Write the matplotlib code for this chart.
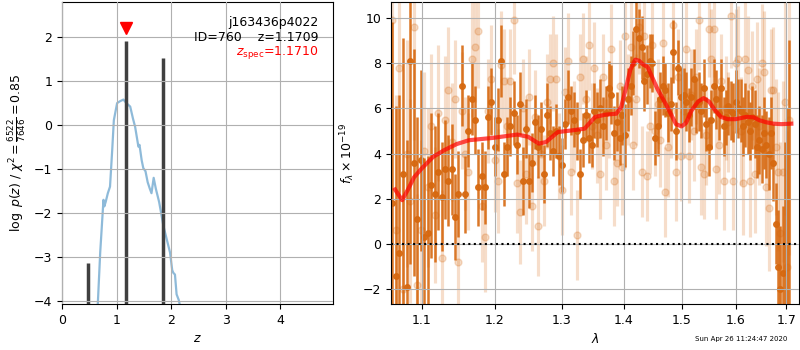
import numpy as np
import matplotlib
matplotlib.use('Agg')
import matplotlib.pyplot as plt
from matplotlib.ticker import FixedLocator, FixedFormatter, NullLocator

plt.rcParams['font.size'] = 9

# ---- redshift fit: log p(z) ----
pz_z = [0.655, 0.70, 0.73, 0.76, 0.775, 0.80, 0.84, 0.88, 0.92, 0.95, 1.01, 1.06,
        1.125, 1.18, 1.25, 1.30, 1.34, 1.40, 1.42, 1.46, 1.49, 1.53, 1.57, 1.61,
        1.64, 1.68, 1.72, 1.78, 1.86, 1.92, 1.98, 2.02, 2.04, 2.07, 2.10, 2.14, 2.16]
pz_logp = [-4.1, -2.9, -2.3, -1.7, -1.85, -1.75, -1.55, -1.4, -0.57, 0.11, 0.5, 0.54,
           0.58, 0.5, 0.42, 0.15, -0.04, -0.49, -0.45, -0.8, -0.98, -1.05, -1.3, -1.45,
           -1.55, -1.2, -1.45, -1.75, -2.3, -2.6, -2.9, -3.3, -3.36, -3.4, -3.85, -3.98, -4.1]

peak_z = [0.483, 1.165, 1.848]
peak_logp = [-3.14, 1.92, 1.53]

z_spec = 1.1710
z_fit = 1.1709
root = 'j163436p4022'
obj_id = 760
chi2_num, chi2_den = 6522, 7646

# ---- 1D spectrum, two sets of extractions on a common wavelength grid ----
wave = [1.0620, 1.0666, 1.0712, 1.0758, 1.0804, 1.0850, 1.0896, 1.0942, 1.0988, 1.1034,
        1.1080, 1.1126, 1.1172, 1.1218, 1.1264, 1.1310, 1.1356, 1.1402, 1.1448, 1.1494,
        1.1540, 1.1586, 1.1632, 1.1678, 1.1724, 1.1770, 1.1816, 1.1862, 1.1908, 1.1954,
        1.2000, 1.2046, 1.2092, 1.2138, 1.2184, 1.2230, 1.2276, 1.2322, 1.2368, 1.2414,
        1.2460, 1.2506, 1.2552, 1.2598, 1.2644, 1.2690, 1.2736, 1.2782, 1.2828, 1.2874,
        1.2920, 1.2966, 1.3012, 1.3058, 1.3104, 1.3150, 1.3196, 1.3242, 1.3288, 1.3334,
        1.3380, 1.3426, 1.3472, 1.3518, 1.3564, 1.3610, 1.3656, 1.3702, 1.3748, 1.3794,
        1.3840, 1.3886, 1.3932, 1.3978, 1.4024, 1.4070, 1.4116, 1.4162, 1.4208, 1.4254,
        1.4300, 1.4346, 1.4392, 1.4438, 1.4484, 1.4530, 1.4576, 1.4622, 1.4668, 1.4714,
        1.4760, 1.4806, 1.4852, 1.4898, 1.4944, 1.4990, 1.5036, 1.5082, 1.5128, 1.5174,
        1.5220, 1.5266, 1.5312, 1.5358, 1.5404, 1.5450, 1.5496, 1.5542, 1.5588, 1.5634,
        1.5680, 1.5726, 1.5772, 1.5818, 1.5864, 1.5910, 1.5956, 1.6002, 1.6048, 1.6094,
        1.6140, 1.6186, 1.6232, 1.6278, 1.6324, 1.6370, 1.6416, 1.6462, 1.6508, 1.6554,
        1.6600, 1.6646, 1.6692, 1.6738, 1.6784, 1.6830, 1.6876, 1.6922, 1.6968, 1.7014,
        1.7060]

flux_a = [1.8, -1.4, -0.4, 3.1, -1.9, 8.1, 3.6, 1.1, 3.7, 0.3,
          0.5, 2.6, 2.2, 3.2, 2.1, 3.3, 2.8, 3.3, 1.2,
          2.2, 7.0, 2.2, 5.0, 6.4, 5.5, 2.5, 3.0, 2.5, 5.6,
          6.3, 4.3, 5.5, 8.1, 3.1, 4.3, 5.2, 5.8, 4.4, 6.2, 2.8,
          5.1, 2.8, 3.6, 5.4, 4.3, 5.1, 3.1, 5.7, 4.9, 4.1, 5.0, 3.9,
          3.5, 5.3, 6.5, 5.9, 5.5, 5.0, 3.1, 4.6, 5.7, 4.7, 4.4,
          5.9, 5.5, 6.0, 5.2, 5.8, 6.9, 6.6, 4.9, 5.4, 4.7, 5.7, 4.8, 6.4,
          7.0, 8.0, 9.5, 9.1, 8.7, 7.2, 7.5, 8.1, 8.0, 4.7, 5.2, 6.4,
          7.0, 6.8, 5.8, 6.2, 8.5, 5.0, 7.8, 6.5, 6.6, 6.3, 5.7, 6.5, 7.3, 6.1,
          6.3, 5.9, 6.9, 5.3, 4.3, 5.5, 7.0, 6.4, 5.8, 6.9, 5.2, 5.6, 6.1,
          5.9, 5.8, 6.3, 6.0, 5.9, 5.2, 5.7, 5.4, 5.0, 5.6, 5.3, 4.3, 4.6,
          4.2, 4.9, 4.4, 4.0, 4.9, 3.6, 0.9, -1.0, -2.0, -1.3, -3.5, -4.0, -3.0]
err_a = [8.0, 7.5, 7.0, 6.0, 6.5, 9.0, 5.0, 4.5, 4.0, 3.5,
         3.4, 3.2, 3.0, 2.6, 2.4, 2.2, 2.0, 2.0, 1.9,
         1.9, 1.8, 1.7, 1.6, 1.6, 1.5, 1.7, 1.5, 1.6, 1.4,
         1.5, 1.3, 1.4, 1.6, 1.4, 1.3, 1.3, 1.4, 1.3, 1.4, 1.5,
         1.3, 1.2, 1.3, 1.2, 1.4, 1.2, 1.3, 1.4, 1.2, 1.1, 1.2, 1.3,
         1.2, 1.1, 1.2, 1.1, 1.2, 1.3, 1.1, 1.2, 1.1, 1.1, 1.0,
         1.2, 1.2, 1.3, 1.3, 1.2, 1.2, 1.3, 1.2, 1.3, 1.2, 1.3, 1.4, 1.4,
         1.3, 1.4, 1.3, 1.3, 1.4, 1.3, 1.3, 1.2, 1.3, 1.2, 1.3, 1.2,
         1.3, 1.2, 1.3, 1.2, 1.4, 1.3, 1.2, 1.3, 1.2, 1.3, 1.2, 1.3, 1.3, 1.2,
         1.3, 1.2, 1.3, 1.2, 1.3, 1.3, 1.2, 1.3, 1.2, 1.3, 1.3, 1.2, 1.3,
         1.3, 1.3, 1.4, 1.3, 1.4, 1.3, 1.4, 1.4, 1.3, 1.4, 1.5, 1.4, 1.5,
         1.5, 1.6, 1.5, 1.6, 1.6, 1.7, 1.8, 2.5, 2.8, 3.0, 8.0, 10.0, 12.0]

flux_b = [9.9, 0.6, 7.8, -2.0, 4.0, 1.9, 9.6, -1.8, 0.6, 4.1,
          2.5, 5.2, 1.3, 5.8, -0.6, 5.5, 6.8, 4.5, 6.4,
          -0.8, 5.9, 4.0, 3.2, 8.2, 8.7, 9.4, 1.7, 0.3, 5.9,
          7.3, 3.7, 2.8, 7.9, 7.2, 5.2, 7.2, 9.9, 2.7, 1.4, 6.0,
          3.1, 6.5, 1.7, 5.6, 0.8, 4.0, 2.8, 6.3, 7.3, 8.0, 7.3, 3.9,
          2.4, 6.7, 8.1, 3.2, 5.2, 0.4, 7.4, 8.2, 6.4, 8.8, 5.2,
          7.8, 4.8, 3.1, 7.4, 4.4, 5.9, 8.6, 2.8, 3.6, 7.0, 3.4, 9.2, 6.4,
          8.7, 4.4, 6.4, 9.6, 3.2, 9.2, 3.0, 5.2, 8.8, 5.0, 6.2, 4.6,
          8.9, 2.3, 4.3, 5.9, 9.7, 3.2, 7.4, 3.9, 5.9, 8.6, 3.9, 6.6, 5.0, 7.4,
          9.9, 3.4, 3.1, 4.8, 9.5, 8.2, 9.5, 3.3, 4.4, 7.2, 2.8, 6.0, 5.4,
          10.1, 2.8, 8.0, 8.2, 5.0, 2.7, 8.2, 7.7, 2.8, 7.0, 3.1, 7.3, 5.2,
          8.0, 7.6, 2.5, 1.6, 6.8, 6.8, 4.3, 3.2, 0.5, 3.2, 6.3, -1.0, 5.5]
err_b = [6.0, 6.0, 5.5, 5.0, 5.0, 4.5, 5.0, 4.0, 4.0, 3.5,
         3.5, 3.2, 3.0, 3.0, 3.0, 2.8, 2.8, 2.6, 2.6,
         2.8, 2.6, 2.5, 2.6, 2.6, 2.4, 2.5, 2.5, 2.4, 2.3,
         2.4, 2.3, 2.3, 2.4, 2.3, 2.2, 2.3, 2.4, 2.2, 2.3, 2.2,
         2.2, 2.1, 2.0, 2.1, 2.2, 2.0, 2.0, 2.1, 2.0, 2.1, 2.0, 1.9,
         2.0, 2.0, 2.1, 1.9, 2.0, 2.0, 1.9, 2.0, 1.9, 2.0, 1.9,
         2.0, 2.1, 2.0, 1.9, 2.0, 2.1, 2.0, 2.0, 1.9, 2.0, 2.1, 2.0, 2.0,
         2.1, 2.0, 2.0, 2.1, 2.0, 1.9, 2.0, 2.1, 2.0, 2.0, 2.0, 2.1,
         2.1, 2.0, 2.2, 2.1, 2.0, 2.2, 2.1, 2.0, 2.1, 2.2, 2.1, 2.0, 2.2, 2.1,
         2.2, 2.1, 2.0, 2.2, 2.1, 2.2, 2.1, 2.2, 2.2, 2.1, 2.2, 2.3, 2.2,
         2.3, 2.2, 2.4, 2.3, 2.4, 2.3, 2.5, 2.4, 2.5, 2.4, 2.6, 2.5, 2.6,
         2.6, 2.7, 2.6, 2.8, 2.7, 2.8, 3.0, 3.5, 4.0, 4.0, 5.0, 6.0, 6.0]

# best-fit template
model_wave = [1.0656, 1.0746, 1.082, 1.090, 1.100, 1.115, 1.130, 1.147, 1.164, 1.197,
              1.233, 1.249, 1.265, 1.276, 1.294, 1.315, 1.336, 1.353, 1.370, 1.3875,
              1.3958, 1.4041, 1.4110, 1.4194, 1.4260, 1.4320, 1.4406, 1.4577, 1.4748,
              1.490, 1.500, 1.508, 1.518, 1.530, 1.540, 1.550, 1.560, 1.572, 1.585,
              1.600, 1.621, 1.635, 1.646, 1.660, 1.674, 1.690, 1.710]
model_flux = [2.41, 1.94, 2.4, 2.95, 3.34, 3.85, 4.15, 4.42, 4.59, 4.69,
              4.84, 4.74, 4.44, 4.51, 4.95, 5.02, 5.10, 5.62, 5.72, 5.76,
              6.06, 6.94, 7.70, 8.15, 8.10, 7.95, 7.82, 6.84, 6.06,
              5.3, 5.2, 5.35, 5.9, 6.3, 6.45, 6.3, 5.95, 5.62, 5.52,
              5.52, 5.62, 5.6, 5.47, 5.38, 5.32, 5.3, 5.32]

wave_ticks = [1.1, 1.2, 1.3, 1.4, 1.5, 1.6, 1.7]
timestamp = 'Sun Apr 26 11:24:47 2020'

orange = '#d6680f'

fig = plt.figure(figsize=(8, 3.5), dpi=100)
ax1 = fig.add_axes([0.0775, 0.1314, 0.339, 0.863])
ax2 = fig.add_axes([0.4888, 0.1314, 0.51, 0.863])

# left: p(z)
ax1.plot(pz_z, pz_logp, color='tab:blue', alpha=0.5, lw=1.6)
ax1.vlines(peak_z, -5, peak_logp, color='0.25', lw=2.5)
ax1.plot([z_spec], [2.2], marker='v', color='r', ms=8, ls='none')
ax1.text(0.945, 0.955, '{0}\nID={1}    z={2:.4f}'.format(root, obj_id, z_fit),
         ha='right', va='top', transform=ax1.transAxes, fontsize=9)
ax1.text(0.945, 0.86, r'$z_\mathrm{spec}$' + '={0:.4f}'.format(z_spec),
         ha='right', va='top', transform=ax1.transAxes, fontsize=9, color='r')
ax1.set_xlim(0, 4.97)
ax1.set_ylim(-4.07, 2.8)
ax1.set_xticks([0, 1, 2, 3, 4])
ax1.set_yticks([-4, -3, -2, -1, 0, 1, 2])
ax1.set_xlabel('$z$')
ax1.set_ylabel(r'$\log\ p(z)$' + ' / ' +
               r'$\chi^2=\frac{%d}{%d}=%.2f$' % (chi2_num, chi2_den, chi2_num / chi2_den))
ax1.grid()
ax1.set_axisbelow(False)

# right: spectrum
ax2.errorbar(wave, flux_b, yerr=err_b, marker='o', ls='none', color=orange,
             alpha=0.22, ms=5, elinewidth=2.3, zorder=1)
ax2.errorbar(wave, flux_a, yerr=err_a, marker='o', ls='none', color=orange,
             alpha=0.9, ms=4, elinewidth=1.8, zorder=1)
ax2.plot(model_wave, model_flux, color='r', alpha=0.7, lw=3, zorder=3)
ax2.axhline(0, color='k', ls=':', lw=1.5, zorder=3)

ax2.set_xscale('log')
ax2.set_xlim(1.0605, 1.7258)
ax2.xaxis.set_major_locator(FixedLocator(wave_ticks))
ax2.xaxis.set_major_formatter(FixedFormatter(['%.1f' % w for w in wave_ticks]))
ax2.xaxis.set_minor_locator(NullLocator())
ax2.set_ylim(-2.65, 10.7)
ax2.set_yticks([-2, 0, 2, 4, 6, 8, 10])
ax2.set_xlabel(r'$\lambda$')
ax2.set_ylabel(r'$f_\lambda\times10^{-19}$')
ax2.grid()
ax2.set_axisbelow(False)

fig.text(0.984, 0.031, timestamp, ha='right', va='center', fontsize=5)

fig.savefig('out.png', dpi=100)
